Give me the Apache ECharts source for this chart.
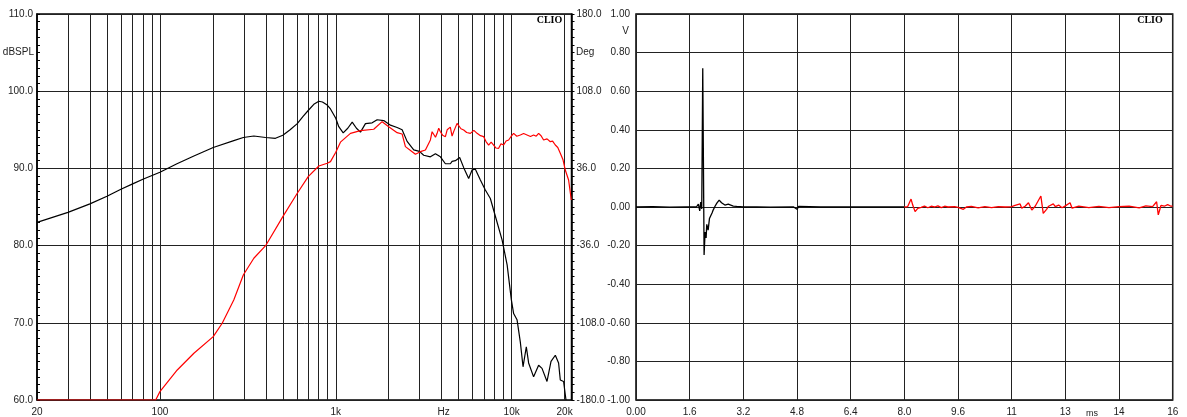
<!DOCTYPE html>
<html>
<head>
<meta charset="utf-8">
<script src="https://cdn.jsdelivr.net/npm/echarts@6/dist/echarts.min.js"></script>
<style>
  html, body { margin: 0; padding: 0; background: #fff; }
  #chart { width: 1187px; height: 417px; }
</style>
</head>
<body>
<div id="chart"></div>
<script>
// ---------- Left chart: frequency response ----------
const splFreq = [20, 30, 40, 50, 60, 70, 80, 100, 125, 156, 201, 263, 298, 342, 399, 454, 500, 550, 604, 650, 697, 750, 801, 840, 894, 933, 1000, 1040, 1102, 1170, 1240, 1311, 1382, 1475, 1610, 1719, 1874, 2046, 2233, 2384, 2545, 2775, 2990, 3162, 3452, 3687, 3935, 4201, 4484, 4585, 4788, 5065, 5339, 5697, 5957, 6220, 6641, 7088, 7568, 8037, 8831, 9428, 9961, 10265, 10732, 11206, 11610, 12121, 12491, 13335, 14238, 14885, 15892, 16748, 17718, 18493, 18911, 19746, 20377];
const splDb = [83.0, 84.3, 85.4, 86.4, 87.3, 88.0, 88.6, 89.5, 90.6, 91.6, 92.7, 93.6, 94.0, 94.2, 94.0, 93.9, 94.3, 95.0, 95.8, 96.7, 97.5, 98.3, 98.7, 98.6, 98.2, 97.7, 96.5, 95.4, 94.6, 95.2, 96.0, 95.2, 94.7, 95.8, 95.9, 96.3, 96.2, 95.6, 95.3, 95.0, 93.5, 92.4, 92.2, 91.7, 91.5, 91.9, 91.5, 90.6, 90.6, 90.9, 91.0, 91.4, 90.1, 88.7, 89.8, 89.9, 88.5, 87.2, 86.1, 84.0, 80.7, 77.5, 73.0, 71.2, 70.4, 67.5, 64.3, 66.9, 64.8, 63.0, 64.5, 64.1, 62.4, 65.0, 65.8, 64.8, 62.6, 62.4, 60.0];

const phaseFreq = [20, 94.6, 100, 125.5, 156, 201, 226, 263, 298, 342, 399, 500, 604, 697, 801, 894, 933, 1000, 1063, 1212, 1382, 1644, 1835, 2000, 2233, 2384, 2489, 2718, 2837, 3029, 3234, 3452, 3530, 3605, 3690, 3769, 3850, 3935, 4050, 4201, 4300, 4385, 4480, 4585, 4700, 4895, 5000, 5150, 5339, 5550, 5825, 6100, 6359, 6650, 6933, 7150, 7401, 7650, 7902, 8150, 8437, 8700, 9006, 9300, 9616, 9950, 10265, 10700, 11206, 11700, 12232, 12800, 13335, 13800, 14238, 14700, 15199, 15900, 16595, 17100, 17718, 18300, 18911, 19600, 20190, 21084, 21840];
const phaseDeg = [-180, -180, -172.2, -152, -136.4, -120.9, -108.4, -86.7, -63.4, -47.8, -36.1, -9.0, 12.8, 28.3, 38.2, 40.8, 42.3, 51.0, 60.5, 68.7, 71.2, 72.5, 79.6, 74.9, 69.3, 68.1, 56.3, 51.6, 49.2, 51.6, 53.2, 62.5, 70.2, 71.2, 65.0, 68.7, 73.5, 70.2, 67.0, 65.6, 72.0, 70.2, 74.5, 66.2, 71.0, 78.0, 76.5, 73.0, 71.8, 69.5, 68.7, 71.5, 68.7, 66.5, 65.6, 61.0, 57.8, 60.5, 57.8, 55.0, 54.7, 59.0, 57.8, 61.5, 62.5, 66.0, 68.7, 66.0, 67.2, 68.5, 67.2, 65.8, 67.2, 66.0, 68.7, 66.5, 62.5, 63.5, 60.9, 61.5, 57.8, 55.5, 50.1, 44.0, 34.5, 25.2, 6.5];

const freqMin = 20, freqMax = 21900;
const freqGridValues = [30, 40, 50, 60, 70, 80, 90, 100, 200, 300, 400, 500, 600, 700, 800, 900, 1000, 2000, 3000, 4000, 5000, 6000, 7000, 8000, 9000, 10000, 20000];
const freqTickValues = [20, 100, 1000, 4100, 10000, 20000];
const freqTickLabels = ['20', '100', '1k', 'Hz', '10k', '20k'];
const phaseTickValues = [-180, -108, -36, 36, 108, 180];

// ---------- Right chart: impulse response ----------
const impTimeBlack = [0, 0.5, 1.0, 1.5, 1.8, 1.86, 1.9, 1.93, 1.96, 1.99, 2.03, 2.06, 2.09, 2.11, 2.15, 2.19, 2.23, 2.27, 2.30, 2.36, 2.41, 2.48, 2.55, 2.65, 2.75, 2.9, 3.0, 3.2, 3.6, 4.0, 4.7, 4.8, 4.85, 5.5, 6.5, 7.5, 8.0];
const impVoltBlack = [0, 0.002, -0.001, 0.001, 0, 0.015, -0.02, 0.025, -0.01, 0.719, -0.249, -0.13, -0.16, -0.09, -0.12, -0.06, -0.07, -0.03, -0.016, 0.005, 0.02, 0.036, 0.022, 0.01, 0.015, 0.005, 0.003, 0, 0.001, -0.001, 0, -0.012, 0.003, 0, 0.001, 0, 0];
const impTimeRed = [8.0, 8.1, 8.17, 8.2, 8.25, 8.32, 8.4, 8.5, 8.6, 8.7, 8.8, 8.9, 9.0, 9.1, 9.2, 9.3, 9.5, 9.6, 9.76, 9.85, 10.0, 10.2, 10.4, 10.6, 10.8, 11.0, 11.2, 11.3, 11.45, 11.5, 11.6, 11.7, 11.8, 11.9, 11.95, 12.07, 12.14, 12.24, 12.3, 12.44, 12.5, 12.6, 12.7, 12.8, 12.94, 13.0, 13.2, 13.5, 13.8, 14.1, 14.4, 14.7, 15.0, 15.2, 15.4, 15.52, 15.57, 15.65, 15.75, 15.85, 15.95, 16.0];
const impVoltRed = [0, 0.002, 0.03, 0.041, 0.01, -0.024, -0.007, -0.002, 0.005, -0.004, 0.004, 0, 0.006, -0.003, 0.004, 0, 0.002, -0.002, -0.012, 0, 0.003, -0.004, 0.002, -0.003, 0.002, 0, 0.002, 0.008, 0.016, -0.006, 0.004, 0.022, -0.016, 0.004, 0.01, 0.057, -0.033, -0.012, 0.004, 0.016, 0.002, 0.01, -0.004, 0.006, 0.022, -0.006, 0.004, -0.003, 0.003, -0.003, 0.002, 0.004, -0.004, 0.006, 0.002, 0.027, -0.041, 0.008, 0.004, 0.012, 0.004, 0.005];
const timeTickLabels = ['0.00', '1.6', '3.2', '4.8', '6.4', '8.0', '9.6', '11', '13', '14', '16'];

// ---------- build ----------
const zip = (a, b) => a.map((v, i) => [v, b[i]]);
const log10 = Math.log10;
const FONT = '"Liberation Sans", Arial, sans-serif';
const TXT = '#222';
const GRIDC = '#222';

const phaseMinor = [];
for (let k = 0; k <= 50; k++) phaseMinor.push(-180 + k * 7.2);

const chart = echarts.init(document.getElementById('chart'), null, { renderer: 'canvas' });
chart.setOption({
  animation: false,
  backgroundColor: '#fff',
  grid: [
    { left: 37, top: 14, width: 534.5, height: 386, show: true, borderColor: '#000', borderWidth: 1.5, backgroundColor: 'transparent' },
    { left: 636, top: 14, width: 536.7, height: 386, show: true, borderColor: '#000', borderWidth: 1.5, backgroundColor: 'transparent' }
  ],
  xAxis: [
    { type: 'log', logBase: 10, gridIndex: 0, position: 'bottom', min: freqMin, max: freqMax, show: false },
    {
      type: 'value', gridIndex: 0, position: 'bottom', min: log10(freqMin), max: log10(freqMax),
      axisLine: { show: false },
      axisTick: { show: false, customValues: freqGridValues.map(log10) },
      splitLine: { show: true, lineStyle: { color: GRIDC, width: 1 } },
      axisLabel: {
        customValues: freqTickValues.map(log10),
        margin: 7, fontSize: 10, fontFamily: FONT, color: TXT,
        showMinLabel: true, showMaxLabel: true,
        formatter: v => {
          const i = freqTickValues.findIndex(f => Math.abs(log10(f) - v) < 1e-6);
          return i >= 0 ? freqTickLabels[i] : '';
        }
      }
    },
    {
      type: 'value', gridIndex: 1, position: 'bottom', min: 0, max: 16, interval: 1.6,
      axisLine: { show: false }, axisTick: { show: false },
      splitLine: { show: true, lineStyle: { color: GRIDC, width: 1 } },
      axisLabel: {
        margin: 7, fontSize: 10, fontFamily: FONT, color: TXT,
        showMinLabel: true, showMaxLabel: true,
        formatter: v => timeTickLabels[Math.round(v / 1.6)]
      }
    }
  ],
  yAxis: [
    {
      type: 'value', gridIndex: 0, position: 'left', min: 60, max: 110, interval: 10,
      axisLine: { show: true, lineStyle: { color: '#000', width: 1.5 } },
      axisTick: { show: true, inside: true, length: 3, lineStyle: { color: '#000' } },
      minorTick: { show: true, splitNumber: 10, length: 3, lineStyle: { color: '#000' } },
      splitLine: { show: true, lineStyle: { color: GRIDC, width: 1 } },
      axisLabel: { margin: 4, fontSize: 10, fontFamily: FONT, color: TXT, formatter: v => v.toFixed(1) }
    },
    {
      type: 'value', gridIndex: 0, position: 'right', min: -180, max: 180,
      axisLine: { show: true, lineStyle: { color: '#000', width: 1.5 } },
      axisTick: { show: true, inside: false, length: 3, customValues: phaseMinor, lineStyle: { color: '#000' } },
      splitLine: { show: false },
      axisLabel: {
        customValues: phaseTickValues, margin: 5, fontSize: 10, fontFamily: FONT, color: TXT,
        formatter: v => v.toFixed(1)
      }
    },
    {
      type: 'value', gridIndex: 1, min: -1, max: 1, interval: 0.2,
      axisLine: { show: false }, axisTick: { show: false },
      splitLine: { show: true, lineStyle: { color: GRIDC, width: 1 } },
      axisLabel: { margin: 6, fontSize: 10, fontFamily: FONT, color: TXT, formatter: v => v.toFixed(2) }
    }
  ],
  series: [
    {
      type: 'line', xAxisIndex: 0, yAxisIndex: 0, data: zip(splFreq, splDb),
      showSymbol: false, symbol: 'none', lineStyle: { color: '#000', width: 1.2 }, z: 3
    },
    {
      type: 'line', xAxisIndex: 0, yAxisIndex: 1, data: zip(phaseFreq, phaseDeg),
      showSymbol: false, symbol: 'none', lineStyle: { color: '#ff0000', width: 1.2 }, z: 4
    },
    {
      type: 'line', xAxisIndex: 2, yAxisIndex: 2, data: zip(impTimeBlack, impVoltBlack),
      showSymbol: false, symbol: 'none', lineStyle: { color: '#000', width: 1.3 }, z: 3
    },
    {
      type: 'line', xAxisIndex: 2, yAxisIndex: 2, data: zip(impTimeRed, impVoltRed),
      showSymbol: false, symbol: 'none', lineStyle: { color: '#ff0000', width: 1.3 }, z: 4
    }
  ],
  graphic: [
    { type: 'text', x: 34, y: 52, style: { text: 'dBSPL', font: '10px ' + FONT, fill: TXT, align: 'right', verticalAlign: 'middle' } },
    { type: 'text', x: 576, y: 52, style: { text: 'Deg', font: '10px ' + FONT, fill: TXT, align: 'left', verticalAlign: 'middle' } },
    { type: 'text', x: 629, y: 31, style: { text: 'V', font: '10px ' + FONT, fill: TXT, align: 'right', verticalAlign: 'middle' } },
    { type: 'text', x: 1092, y: 414, style: { text: 'ms', font: '9px ' + FONT, fill: TXT, align: 'center', verticalAlign: 'middle' } },
    { type: 'text', x: 549.5, y: 20.5, z: 10, style: { text: 'CLIO', font: 'bold 10px "Liberation Serif", "DejaVu Serif", serif', fill: '#000', align: 'center', verticalAlign: 'middle' } },
    { type: 'text', x: 1150, y: 20.5, z: 10, style: { text: 'CLIO', font: 'bold 10px "Liberation Serif", "DejaVu Serif", serif', fill: '#000', align: 'center', verticalAlign: 'middle' } }
  ]
});
</script>
</body>
</html>
